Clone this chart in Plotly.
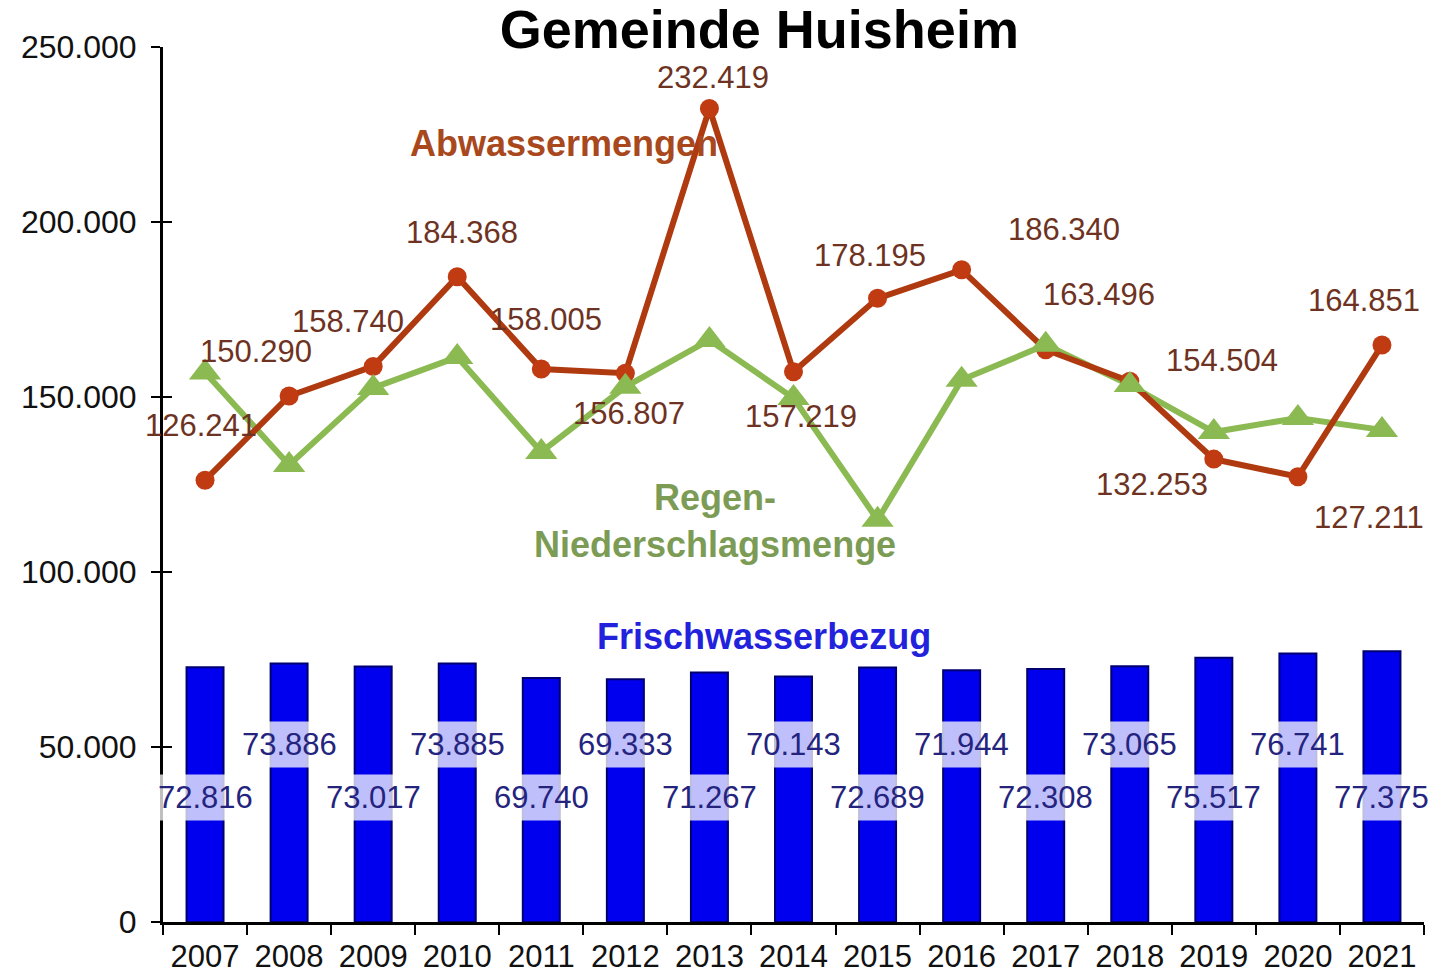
import plotly.graph_objects as go

# Jahreswerte in m³
years = [str(y) for y in range(2007, 2022)]
abwasser = [126241, 150290, 158740, 184368, 158005, 156807, 232419, 157219,
            178195, 186340, 163496, 154504, 132253, 127211, 164851]
frischwasser = [72816, 73886, 73017, 73885, 69740, 69333, 71267, 70143,
                72689, 71944, 72308, 73065, 75517, 76741, 77375]
regen = [157000, 130600, 152600, 161400, 134300, 152900, 166300, 149700,
         114900, 154900, 164900, 153400, 140000, 144000, 140600]

FONT = "Liberation Sans, Arial, sans-serif"
BROWN_LINE = "#b03a10"
BROWN_TEXT = "#6e3222"
GREEN = "#8cba52"
BLUE = "#0000ee"


def de(v):
    return f"{v:,}".replace(",", ".")


# pixel offsets of the Abwasser value labels relative to their points
abw_label_shift = [(-4, 55), (-33, 44), (-25, 45), (5, 44), (5, 49), (4, -40),
                   (4, 31), (7, -45), (-8, 43), (102, 40), (53, 55), (92, 21),
                   (-62, -25), (71, -41), (-18, 45)]
# two alternating rows for the bar value labels
bar_label_rows = (35700, 50600)

fig = go.Figure()

fig.add_trace(go.Bar(
    x=years, y=frischwasser, width=0.44,
    marker=dict(color=BLUE, line=dict(color="#000070", width=2)),
    hoverinfo="skip",
))

fig.add_trace(go.Scatter(
    x=years, y=regen, mode="lines",
    line=dict(color=GREEN, width=6), hoverinfo="skip",
))

fig.add_trace(go.Scatter(
    x=years, y=abwasser, mode="lines+markers",
    line=dict(color=BROWN_LINE, width=6),
    marker=dict(symbol="circle", size=19, color="#c03a12"),
    hoverinfo="skip",
))

fig.add_trace(go.Scatter(
    x=years, y=regen, mode="markers", yaxis="y2",
    marker=dict(symbol="triangle-up", size=28, color=GREEN),
    hoverinfo="skip",
))

annotations = []
# category positions are given by index on the category axis
for i, v in enumerate(abwasser):
    dx, dy = abw_label_shift[i]
    annotations.append(dict(
        x=i, y=v, xref="x", yref="y", text=de(v), showarrow=False,
        xanchor="center", yanchor="middle", xshift=dx, yshift=dy,
        font=dict(family=FONT, size=31, color=BROWN_TEXT),
    ))

for i, v in enumerate(frischwasser):
    annotations.append(dict(
        x=i, y=bar_label_rows[i % 2], xref="x", yref="y", text=de(v),
        xanchor="center", yanchor="middle",
        showarrow=False, bgcolor="rgba(255,255,255,0.75)", borderpad=5,
        font=dict(family=FONT, size=31, color="#24247e"),
    ))

series_titles = [
    (0.318, 0.890, "<b>Abwassermengen</b>", "#a8481c"),
    (0.438, 0.458, "<b>Regen-<br>Niederschlagsmenge</b>", "#7c9c56"),
    (0.477, 0.326, "<b>Frischwasserbezug</b>", "#2222dd"),
]
for x, y, txt, col in series_titles:
    annotations.append(dict(
        x=x, y=y, xref="paper", yref="paper", text=txt, showarrow=False,
        xanchor="center", yanchor="middle",
        font=dict(family=FONT, size=36, color=col),
    ))

fig.update_layout(
    width=1430, height=978,
    margin=dict(l=163, r=6, t=47, b=56),
    paper_bgcolor="white", plot_bgcolor="white",
    separators=",.",
    showlegend=False,
    font=dict(family=FONT, color="#111111"),
    title=dict(text="<b>Gemeinde Huisheim</b>", x=0.531, xanchor="center",
               y=1 - 29 / 978, yanchor="middle", yref="container",
               font=dict(family=FONT, size=54, color="black")),
    xaxis=dict(type="category", range=[-0.5, 14.5], showgrid=False,
               showline=True, linecolor="black", linewidth=3,
               ticks="outside", tickson="boundaries", ticklen=10, tickwidth=2,
               tickcolor="black", ticklabelstandoff=5, automargin=False,
               tickfont=dict(family=FONT, size=31, color="#111111")),
    yaxis=dict(range=[0, 250000], dtick=50000, tickformat=",d", showgrid=False,
               zeroline=False, showline=True, linecolor="black", linewidth=3,
               ticks="outside", ticklen=9, tickwidth=2, tickcolor="black",
               ticklabelstandoff=8, automargin=False,
               tickfont=dict(family=FONT, size=32, color="#111111")),
    yaxis2=dict(range=[0, 250000], dtick=50000, overlaying="y", side="left",
                showgrid=False, zeroline=False, showline=False,
                ticks="inside", ticklen=9, tickwidth=2, tickcolor="black",
                showticklabels=False),
    annotations=annotations,
)

fig.write_html("out.html")
